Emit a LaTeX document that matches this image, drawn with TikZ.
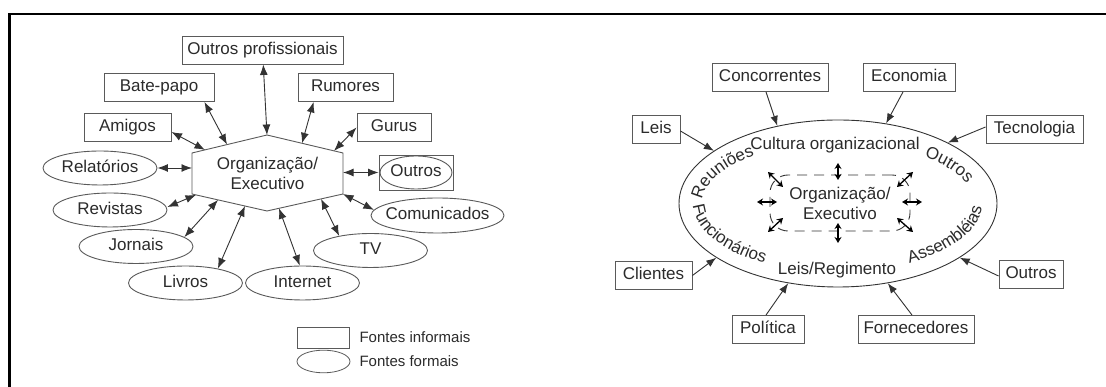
\documentclass[tikz,border=0pt]{standalone}
\usepackage{fontspec}
\setmainfont{Liberation Sans}
\usetikzlibrary{shapes.geometric,arrows.meta,decorations.text,calc}
\definecolor{txt}{HTML}{2B2B2B}
\definecolor{boxc}{HTML}{5A5A5A}
\definecolor{lnc}{HTML}{333333}
\newcommand\fs{\fontsize{17}{20}\selectfont}
\newcommand\fsl{\fontsize{15}{18}\selectfont}
\newcommand\zb[1]{\makebox[0pt]{#1}}
\begin{document}
\begin{tikzpicture}[x=1pt,y=1pt,
  box/.style={draw=boxc, line width=0.9pt, font=\fs, text=txt, inner sep=0pt, minimum height=28pt, text height=12.5pt, text depth=3.5pt},
  ell/.style={ellipse, draw=boxc, line width=0.9pt, font=\fs, text=txt, inner sep=0pt, text height=12.5pt, text depth=3.5pt, minimum width=114pt, minimum height=34pt},
  dbl/.style={draw=lnc, line width=0.9pt, {Latex[length=10.5pt,width=8pt]}-{Latex[length=10.5pt,width=8pt]}},
  sgl/.style={draw=lnc, line width=0.9pt, -{Latex[length=10pt,width=7.5pt]}},
  tinyarr/.style={draw=black, line width=1.3pt, {Stealth[length=6pt,width=7pt]}-{Stealth[length=6pt,width=7pt]}},
  lbl/.style={font=\fs, text=txt},
  curv/.style={decorate, decoration={text along path, text align=center, text color=txt}},
]
\fill[white] (0,0) rectangle (1106,387);
\useasboundingbox (0,0) rectangle (1106,387);
\draw[line width=2.6pt] (9.5,0) -- (9.5,373) -- (1106,373);

% ---------------- left diagram ----------------
\node[box, minimum width=161pt] (op) at (262.5,337) {Outros profissionais};
\node[box, minimum width=110pt] (bp) at (159,299.5) {Bate-papo};
\node[box, minimum width=95pt] (rum) at (345.5,299.5) {Rumores};
\node[box, minimum width=87pt] (ami) at (127.5,259.5) {Amigos};
\node[box, minimum width=74pt] (gur) at (394,259.5) {Gurus};
\node[box, minimum width=74pt, minimum height=35pt] (outL) at (416,214.5) {};
\node[ell, minimum width=72pt, minimum height=33pt] (outLe) at (416,214.5) {\zb{Outros}};

\node[ell] (rel) at (100,219) {\zb{Relatórios}};
\node[ell] (rev) at (110,177) {\zb{Revistas}};
\node[ell] (jor) at (136,140.5) {\zb{Jornais}};
\node[ell] (liv) at (185.5,104) {\zb{Livros}};
\node[ell] (int) at (302.5,104) {\zb{Internet}};
\node[ell] (tv) at (370.5,136.5) {\zb{TV}};
\node[ell, minimum width=133pt, minimum height=35pt] (com) at (437.5,171.5) {\zb{Comunicados}};

\coordinate (hT) at (267,252);
\coordinate (hUR) at (343,234);
\coordinate (hLR) at (343,193);
\coordinate (hB) at (267,176);
\coordinate (hLL) at (192,193);
\coordinate (hUL) at (192,234);
\draw[draw=boxc, line width=0.9pt] (hT) -- (hUR) -- (hLR) -- (hB) -- (hLL) -- (hUL) -- cycle;
\node[lbl, align=center] (hex) at (267.5,214) {Organização/\\Executivo};

\coordinate (hBP) at (227,242.4);
\coordinate (hAm) at (205,237.1);
\coordinate (hRu) at (302,243.7);
\coordinate (hGu) at (334,236.1);
\coordinate (hRe) at (192,219);
\coordinate (hOu) at (343,214.5);
\coordinate (hRv) at (196,192.1);
\coordinate (hJo) at (218,187.1);
\coordinate (hLi) at (245,181);
\coordinate (hIn) at (279,178.7);
\coordinate (hTV) at (321,188.1);

\draw[dbl] (op) -- (hT);
\draw[dbl] ([xshift=-10pt]bp.south east) -- (hBP);
\draw[dbl] ([yshift=-4.5pt]ami.east) -- (hAm);
\draw[dbl] ([xshift=16pt]rum.south west) -- (hRu);
\draw[dbl] (gur.west) -- (hGu);
\draw[dbl] (rel.east) -- (hRe);
\draw[dbl] (hOu) -- (outL.west);
\draw[dbl] ([yshift=3pt]rev.east) -- (hRv);
\draw[dbl] (jor.11) -- (hJo);
\draw[dbl] (liv.24) -- (hLi);
\draw[dbl] (int.99) -- (hIn);
\draw[dbl] (tv.155) -- (hTV);
\draw[dbl] (com.175) -- (hLR);

% legend
\node[box, minimum width=52pt, minimum height=21pt, line width=0.8pt] (legR) at (323,49.5) {};
\node[ell, minimum width=53pt, minimum height=19pt, line width=0.8pt] (legE) at (323.5,25.5) {};
\node[anchor=west, font=\fsl, text=txt] (legRt) at (356,49.5) {Fontes informais};
\node[anchor=west, font=\fsl, text=txt] (legEt) at (356,25.5) {Fontes formais};

% ---------------- right diagram ----------------
\node[ellipse, draw=lnc, line width=0.9pt, minimum width=318pt, minimum height=167pt, inner sep=0pt] (cult) at (838,183.5) {};
\node[lbl] (cultt) at (835,242) {Cultura organizacional};
\node[lbl] (leisr) at (837,117) {Leis/Regimento};
\node[draw=lnc, line width=0.9pt, dash pattern=on 10pt off 7pt, rounded corners=18pt, minimum width=140pt, minimum height=56pt, lbl, align=center] (org) at (840,184) {Organização/\\Executivo};

\path[curv, decoration={text={|\fs|Reuniões}}] ($(cult.center)+(184:136 and 60.5)$) arc[start angle=184, end angle=124, x radius=136, y radius=60.5];
\path[curv, decoration={text={|\fs|Outros}}] ($(cult.center)+(60:136 and 60.5)$) arc[start angle=60, end angle=2, x radius=136, y radius=60.5];
\path[curv, decoration={text={|\fs|Funcionários}}] ($(cult.center)+(179:145 and 69.5)$) arc[start angle=179, end angle=241, x radius=145, y radius=69.5];
\path[curv, decoration={text={|\fs|Assembléias}}] ($(cult.center)+(298:144 and 68.5)$) arc[start angle=298, end angle=360, x radius=144, y radius=68.5];

\node[box, minimum width=116pt] (conc) at (770,309.5) {Concorrentes};
\node[box, minimum width=92pt] (eco) at (909,309.5) {Economia};
\node[box, minimum width=48pt] (leis) at (656,258) {Leis};
\node[box, minimum width=97pt] (tec) at (1034.5,258) {Tecnologia};
\node[box, minimum width=77pt] (cli) at (653.5,111.5) {Clientes};
\node[box, minimum width=64pt] (outR) at (1031,113) {Outros};
\node[box, minimum width=72pt] (pol) at (768,57.5) {Política};
\node[box, minimum width=116pt] (forn) at (916,57.5) {Fornecedores};

\draw[sgl] ([xshift=-4pt]conc.south) -- (cult.128);
\draw[sgl] ([xshift=-6pt]eco.south) -- (cult.59);
\draw[sgl] ([yshift=-2pt]leis.east) -- (cult.157);
\draw[sgl] ([yshift=2pt]tec.west) -- (cult.29);
\draw[sgl] (cli.east) -- (cult.204);
\draw[sgl] ([yshift=-2pt]outR.west) -- (cult.336);
\draw[sgl] ([xshift=-2pt]pol.north) -- (cult.238);
\draw[sgl] ([xshift=-4pt]forn.north) -- (cult.302);

% small arrows around the organisation
\draw[tinyarr] ($(org.center)+(-2,40)$) -- ($(org.center)+(-2,23)$);
\draw[tinyarr] ($(org.center)+(-2,-20)$) -- ($(org.center)+(-2,-40)$);
\draw[tinyarr] ($(org.center)+(-83,1)$) -- ($(org.center)+(-63,1)$);
\draw[tinyarr] ($(org.center)+(62,1)$) -- ($(org.center)+(82,1)$);
\draw[tinyarr] ($(org.center)+(-72,31)$) -- ($(org.center)+(-57,16)$);
\draw[tinyarr] ($(org.center)+(57,16)$) -- ($(org.center)+(73,31)$);
\draw[tinyarr] ($(org.center)+(-72,-29)$) -- ($(org.center)+(-57,-15)$);
\draw[tinyarr] ($(org.center)+(57,-15)$) -- ($(org.center)+(73,-29)$);
\end{tikzpicture}
\end{document}
